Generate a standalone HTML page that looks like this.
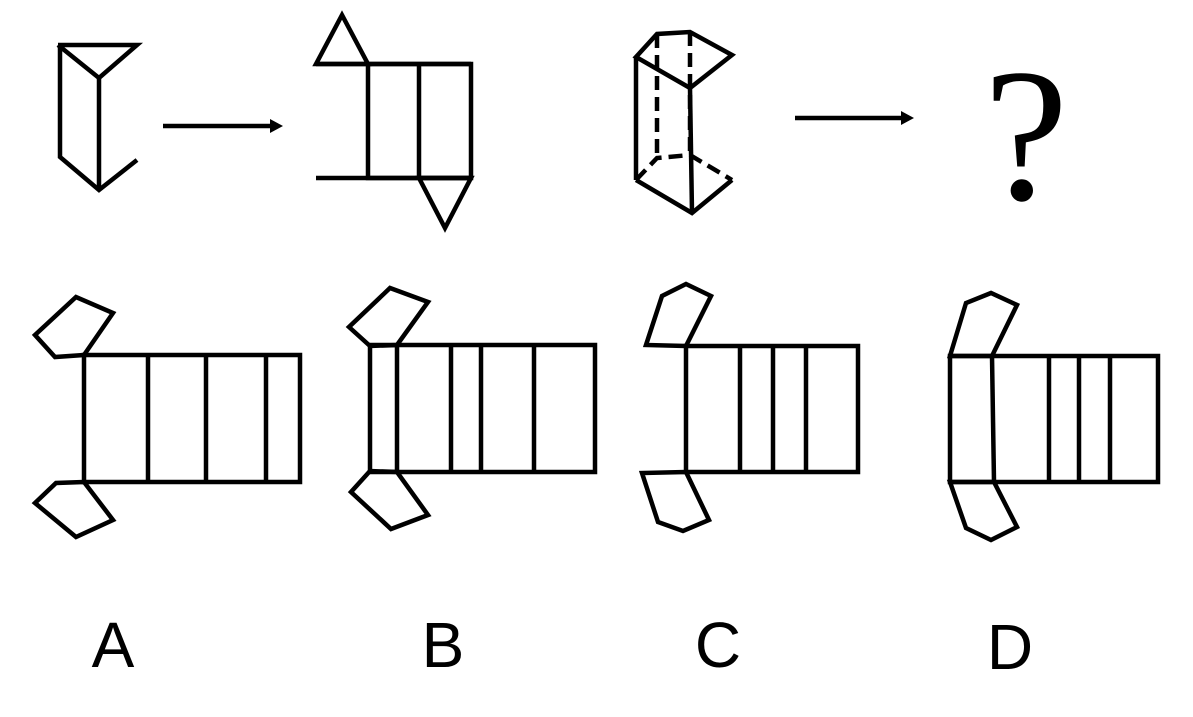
<!DOCTYPE html>
<html><head><meta charset="utf-8"><style>
html,body{margin:0;padding:0;background:#fff;}
svg{display:block;}
</style></head><body>
<svg width="1193" height="717" viewBox="0 0 1193 717" xmlns="http://www.w3.org/2000/svg">
<g fill="none" stroke="#000" stroke-width="4.5" stroke-linejoin="miter" stroke-linecap="butt">
<!-- prism 1 -->
<polyline points="58,45 137,45 99,78 58,45"/>
<line x1="99" y1="78" x2="99" y2="190"/>
<polyline points="60,45 60,157 99,190 137,160"/>
<!-- arrow 1 -->
<line x1="163" y1="126" x2="270" y2="126"/>
<!-- net 1 -->
<polygon points="316,64 342,15 368,64"/>
<line x1="316" y1="64" x2="471" y2="64"/>
<rect x="368" y="64" width="103" height="114"/>
<line x1="419" y1="64" x2="419" y2="178"/>
<line x1="316" y1="178" x2="471" y2="178"/>
<polygon points="419,178 445,228 471,178"/>
<!-- pentagon prism -->
<polygon points="636,57 657,34 690,32 732,55 690,88"/>
<line x1="636" y1="57" x2="636" y2="180"/>
<line x1="690" y1="88" x2="692" y2="213"/>
<polyline points="636,180 692,213 732,180"/>
<g stroke-dasharray="14,7">
<line x1="657" y1="34" x2="657" y2="158"/>
<line x1="690" y1="32" x2="690" y2="155"/>
<polyline points="636,180 657,158 690,155 732,180"/>
</g>
<!-- arrow 2 -->
<line x1="795" y1="118" x2="902" y2="118"/>
<!-- A -->
<rect x="84" y="355" width="216" height="127"/>
<line x1="148" y1="355" x2="148" y2="482"/>
<line x1="206" y1="355" x2="206" y2="482"/>
<line x1="266" y1="355" x2="266" y2="482"/>
<polygon points="84,355 55,357 35,335 76,297 113,313"/>
<polygon points="84,482 56,483 35,503 76,537 113,520"/>
<!-- B -->
<rect x="370" y="345" width="225" height="127"/>
<line x1="397" y1="345" x2="397" y2="472"/>
<line x1="451" y1="345" x2="451" y2="472"/>
<line x1="481" y1="345" x2="481" y2="472"/>
<line x1="534" y1="345" x2="534" y2="472"/>
<polygon points="370,346 349,327 390,288 428,302 397,345"/>
<polygon points="370,471 351,492 391,529 428,515 397,472"/>
<!-- C -->
<rect x="686" y="346" width="172" height="126"/>
<line x1="740" y1="346" x2="740" y2="472"/>
<line x1="773" y1="346" x2="773" y2="472"/>
<line x1="806" y1="346" x2="806" y2="472"/>
<polygon points="686,346 646,345 662,296 686,284 711,296"/>
<polygon points="686,472 642,473 658,522 683,531 709,520"/>
<!-- D -->
<rect x="950" y="356" width="208" height="126"/>
<line x1="992" y1="356" x2="994" y2="482"/>
<line x1="1049" y1="356" x2="1049" y2="482"/>
<line x1="1079" y1="356" x2="1079" y2="482"/>
<line x1="1110" y1="356" x2="1110" y2="482"/>
<polygon points="950,356 966,303 991,293 1017,305 992,356"/>
<polygon points="950,482 966,528 991,540 1017,527 994,482"/>
</g>
<polygon points="270,119 283,126 270,133" fill="#000"/>
<polygon points="901,111 914,118 901,125" fill="#000"/>
<text x="1026" y="199" font-family="Liberation Serif, serif" font-size="190" text-anchor="middle">?</text>
<g font-family="Liberation Sans, sans-serif" font-size="64" text-anchor="middle">
<text x="113" y="667">A</text>
<text x="443" y="667">B</text>
<text x="718" y="667">C</text>
<text x="1010" y="669">D</text>
</g>
</svg>
</body></html>
